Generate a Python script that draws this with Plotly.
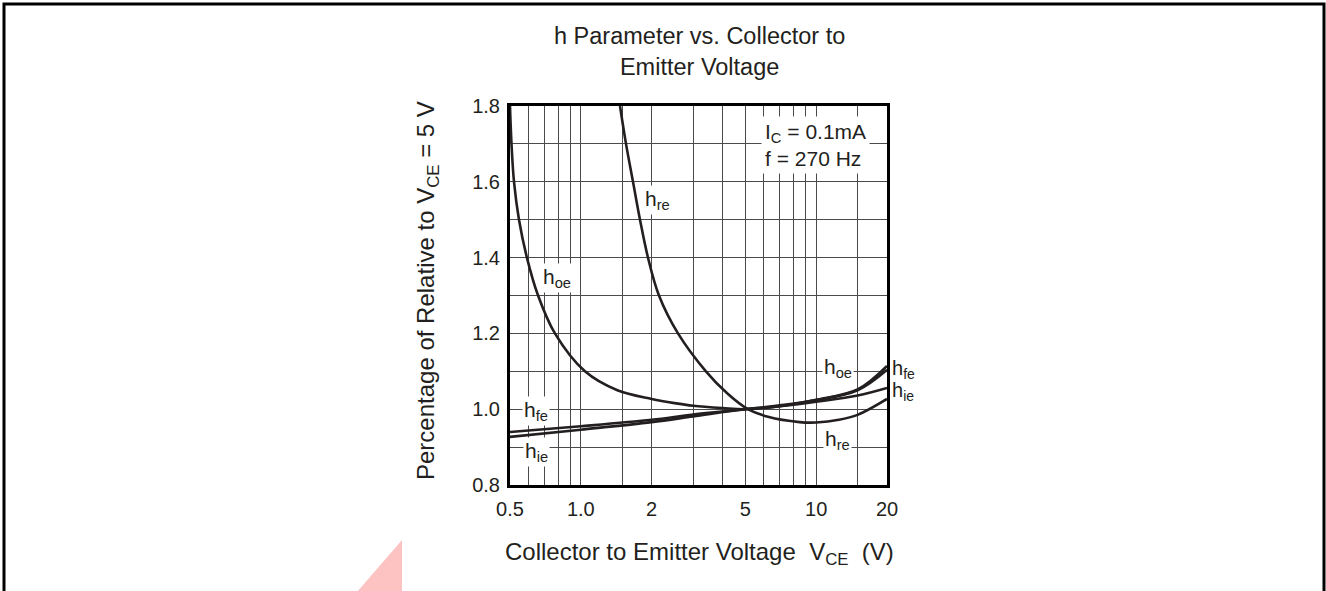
import math
import plotly.graph_objects as go

# ---- data ----
vce_hoe = [0.5, 0.5074, 0.520, 0.546, 0.590, 0.658, 0.776, 1.041, 1.43, 2.0, 2.5, 3.0, 4.0, 5.0, 7.0, 10.0, 15.0, 20.0]
hoe = [1.80, 1.70, 1.60, 1.50, 1.40, 1.30, 1.20, 1.10, 1.05, 1.027, 1.016, 1.009, 1.003, 1.0, 1.008, 1.025, 1.052, 1.114]

vce_hre = [1.467, 1.556, 1.666, 1.784, 1.929, 2.148, 2.587, 3.40, 4.22, 5.13, 6.24, 8.5, 10.0, 12.5, 15.0, 20.0]
hre = [1.80, 1.70, 1.60, 1.50, 1.40, 1.30, 1.20, 1.10, 1.04, 1.0, 0.98, 0.966, 0.965, 0.972, 0.985, 1.027]

vce_hfe = [0.5, 1.0, 2.0, 3.0, 5.0, 7.0, 10.0, 15.0, 20.0]
hfe = [0.94, 0.955, 0.972, 0.986, 1.0, 1.01, 1.024, 1.05, 1.104]

vce_hie = [0.5, 1.0, 2.0, 3.0, 5.0, 7.0, 10.0, 15.0, 20.0]
hie = [0.927, 0.946, 0.966, 0.981, 1.0, 1.008, 1.02, 1.036, 1.056]

x_grid = [0.5, 0.6, 0.7, 0.8, 0.9, 1.0, 1.5, 2, 3, 4, 5, 6, 7, 8, 9, 10, 15, 20]
x_labels = {0.5: "0.5", 1.0: "1.0", 2: "2", 5: "5", 10: "10", 20: "20"}
y_grid = [0.8, 0.9, 1.0, 1.1, 1.2, 1.3, 1.4, 1.5, 1.6, 1.7, 1.8]
y_labels = {0.8: "0.8", 1.0: "1.0", 1.2: "1.2", 1.4: "1.4", 1.6: "1.6", 1.8: "1.8"}

# ---- figure ----
INK = "#231f20"
FONT = "Arial, Liberation Sans, sans-serif"
W, H = 1326, 591
L, R, T, B = 510, 887, 106, 485

fig = go.Figure()
for xs, ys in [(vce_hoe, hoe), (vce_hre, hre), (vce_hfe, hfe), (vce_hie, hie)]:
    fig.add_trace(go.Scatter(x=xs, y=ys, mode="lines",
                             line=dict(color=INK, width=2.6, shape="spline", smoothing=1.0),
                             hoverinfo="skip", showlegend=False))


def px(xp):
    return (xp - L) / (R - L)


def py(yp):
    return (B - yp) / (B - T)


lab_font = dict(family=FONT, size=21, color=INK)
labels = [
    ("h<sub>re</sub>", 2.107, 1.552),
    ("h<sub>oe</sub>", 0.792, 1.346),
    ("h<sub>fe</sub>", 0.645, 0.995),
    ("h<sub>ie</sub>", 0.645, 0.887),
    ("h<sub>oe</sub>", 12.38, 1.109),
    ("h<sub>re</sub>", 12.3, 0.919),
]
for txt, xv, yv in labels:
    fig.add_annotation(x=math.log10(xv), y=yv, xref="x", yref="y", text=txt, showarrow=False,
                       font=lab_font, bgcolor="white", borderpad=1, xanchor="center", yanchor="middle")

# labels just outside the right edge of the plot
for txt, yv in [("h<sub>fe</sub>", 1.104), ("h<sub>ie</sub>", 1.046)]:
    fig.add_annotation(x=px(903), y=(yv - 0.8) / 1.0, xref="paper", yref="paper", text=txt,
                       showarrow=False, font=dict(family=FONT, size=20, color=INK),
                       xanchor="center", yanchor="middle")

fig.add_annotation(x=math.log10(9.9), y=1.697, xref="x", yref="y",
                   text="I<sub>C</sub> = 0.1mA<br>f = 270 Hz", showarrow=False,
                   font=lab_font, bgcolor="white", borderpad=3, align="left",
                   xanchor="center", yanchor="middle")

# titles
fig.add_annotation(x=px(699), y=py(51), xref="paper", yref="paper",
                   text="h Parameter vs. Collector to<br>Emitter Voltage", showarrow=False,
                   font=dict(family=FONT, size=23.5, color=INK), xanchor="center", yanchor="middle")
fig.add_annotation(x=px(699), y=py(553), xref="paper", yref="paper",
                   text="Collector to Emitter Voltage  V<sub>CE</sub>  (V)", showarrow=False,
                   font=dict(family=FONT, size=24, color=INK), xanchor="center", yanchor="middle")
fig.add_annotation(x=px(427), y=py(291), xref="paper", yref="paper", textangle=-90,
                   text="Percentage of Relative to V<sub>CE</sub> = 5 V", showarrow=False,
                   font=dict(family=FONT, size=24, color=INK), xanchor="center", yanchor="middle")

# outer frame and watermark
fig.add_shape(type="rect", xref="paper", yref="paper",
              x0=px(4), x1=px(1324), y0=py(600), y1=py(4),
              line=dict(color="black", width=3), fillcolor="rgba(0,0,0,0)", layer="above")
fig.add_shape(type="path", xref="paper", yref="paper",
              path="M {} {} L {} {} L {} {} L {} {} Z".format(px(357), py(592), px(402), py(540),
                                                              px(402), py(592), px(357), py(592)),
              line=dict(width=0), fillcolor="rgba(250,120,120,0.45)", layer="below")

axis_common = dict(showline=True, linecolor="black", linewidth=3, mirror=True,
                   showgrid=True, gridcolor="#4a4a4a", gridwidth=1, ticks="",
                   zeroline=False, tickfont=dict(family=FONT, size=20, color=INK),
                   fixedrange=True)

fig.update_xaxes(type="log", range=[-0.30103, 1.30103],
                 tickvals=x_grid, ticktext=[x_labels.get(v, "") for v in x_grid],
                 ticklabelstandoff=4, **axis_common)
fig.update_yaxes(range=[0.8, 1.8],
                 tickvals=y_grid, ticktext=[y_labels.get(v, "") for v in y_grid],
                 ticklabelstandoff=3, **axis_common)

fig.update_layout(width=W, height=H, margin=dict(l=L, r=W - R, t=T, b=H - B),
                  paper_bgcolor="white", plot_bgcolor="white",
                  font=dict(family=FONT, color=INK), showlegend=False)

fig.write_html("out.html")
